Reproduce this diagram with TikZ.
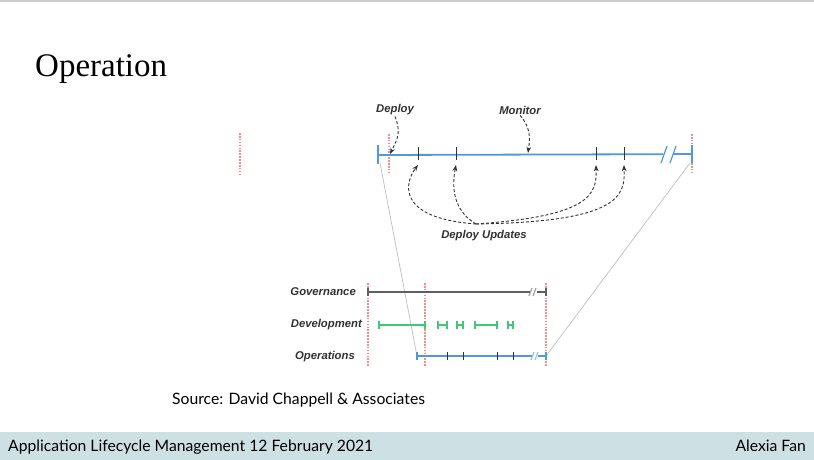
\documentclass[tikz,border=0pt]{standalone}
\usepackage{fontspec}
\setmainfont{Lato}
\newfontfamily\titlefont{Liberation Serif}
\newfontfamily\figfont{Liberation Sans}
\usetikzlibrary{arrows.meta,positioning,calc}
\definecolor{opblue}{RGB}{78,152,222}
\definecolor{opgreen}{RGB}{62,200,120}
\definecolor{opgray}{RGB}{95,95,95}
\definecolor{opred}{RGB}{248,140,140}
\definecolor{optext}{RGB}{50,50,50}
\definecolor{footbg}{RGB}{205,224,228}
\tikzset{
  lbl/.style={font=\figfont\bfseries\itshape\fontsize{11.3}{13}\selectfont, text=optext, inner sep=1pt},
  guide/.style={opred, dash pattern=on 1.6pt off 1.3pt, line width=1.4pt},
  bar/.style={line width=1.8pt, line cap=butt},
  brk/.style={line width=1.2pt},
  tick/.style={black!80, line width=0.8pt},
  callout/.style={-{Stealth[length=2.2mm]}, optext, densely dashed, line width=0.9pt},
  persp/.style={black!25, line width=0.7pt},
}
\begin{document}
\begin{tikzpicture}[x=1pt,y=-1pt]
  \useasboundingbox (0,0) rectangle (814,460);
  \fill[white] (0,0) rectangle (814,460);
  \draw[black!20, line width=1.5pt] (0,1) -- (814,1);
  \fill[footbg] (0,432) rectangle (814,460);

  % slide text
  \node[anchor=base west, font=\titlefont\fontsize{33}{36}\selectfont, inner sep=0pt] (title) at (35,77) {Operation};
  \node[anchor=base west, font=\fontsize{15.7}{18}\selectfont, inner sep=0pt] (src) at (172,404) {Source: David Chappell \& Associates};
  \node[anchor=base west, font=\fontsize{15.7}{18}\selectfont, inner sep=0pt] (foot) at (8,451) {Application Lifecycle Management 12 February 2021};
  \node[anchor=base east, font=\fontsize{15.7}{18}\selectfont, inner sep=0pt] (author) at (806,451) {Alexia Fan};

  % top timeline
  \draw[guide] (240,133) -- (240,174);
  \draw[guide] (389,134) -- (389,174);
  \draw[guide] (692,134) -- (692,174);
  \coordinate (tl) at (378,155);
  \coordinate (tr) at (692,154);
  \draw[opblue, bar] (tl) -- (663,154.2);
  \draw[opblue, bar] (673,154) -- (tr);
  \draw[opblue, brk] (661,163) -- (667,146);
  \draw[opblue, brk] (670,163) -- (676,146);
  \draw[opblue, line width=2pt] (378,145) -- (378,164);
  \draw[opblue, line width=2pt] (692,145) -- (692,163);
  \foreach \x/\n in {418/1,456/2,596/3,624/4}{
    \draw[tick] (\x,147) -- (\x,160);
    \coordinate (u\n) at (\x,165);
  }

  % callouts
  \node[lbl] (deploy) at (395,110) {Deploy};
  \node[lbl] (monitor) at (520,110) {Monitor};
  \node[lbl] (upd) at (484,236) {Deploy Updates};
  \coordinate (dp) at (390,154);
  \coordinate (mn) at (528,153);
  \draw[callout] (deploy.south) .. controls (401,132) and (398,138) .. (dp);
  \draw[callout] (monitor.south) .. controls (531,128) and (530,138) .. (mn);
  \coordinate (hub) at (476,224);
  \draw[callout] (hub) .. controls (395,218) and (405,182) .. (u1);
  \draw[callout] (hub) .. controls (452,210) and (452,185) .. (u2);
  \draw[callout] (hub) .. controls (590,216) and (597,195) .. (u3);
  \draw[callout] (hub) .. controls (622,222) and (625,195) .. (u4);

  % perspective lines
  \coordinate (ol) at (417,356);
  \coordinate (or) at (546,356);
  \draw[persp] (380,163) -- (ol);
  \draw[persp] (690,163) -- (or);

  % bottom lanes
  \foreach \x in {368,425,546}{\draw[guide] (\x,283) -- (\x,367);}
  \node[lbl, anchor=east] (gov) at (357,292) {Governance};
  \node[lbl, anchor=east] (dev) at (363,325) {Development};
  \node[lbl, anchor=east] (ops) at (356,357) {Operations};

  \draw[opgray, line width=1.2pt] (368,292) -- (530,292);
  \draw[opgray, line width=1.2pt] (537,292) -- (546,292);
  \draw[opgray!60, brk] (529,296) -- (532,288);
  \draw[opgray!60, brk] (533,296) -- (536,288);
  \draw[opgray, line width=1.2pt] (368,288) -- (368,296);
  \draw[opgray, line width=1.2pt] (546,288) -- (546,296);

  \foreach \a/\b in {379/425,438/447,457/463,475/497,508/513}{
    \draw[opgreen, line width=1.4pt] (\a,325) -- (\b,325);
    \draw[opgreen, line width=1.4pt] (\a,321) -- (\a,329);
    \draw[opgreen, line width=1.4pt] (\b,321) -- (\b,329);
  }

  \draw[opblue, line width=1.4pt] (ol) -- (532,356);
  \draw[opblue, line width=1.4pt] (538,356) -- (or);
  \draw[opblue!60, brk] (531,360) -- (534,352);
  \draw[opblue!60, brk] (535,360) -- (538,352);
  \draw[opblue, line width=1.4pt] (417,352) -- (417,360);
  \draw[opblue, line width=1.4pt] (546,352) -- (546,360);
  \foreach \x in {447,463,497,513}{\draw[tick] (\x,352) -- (\x,360);}
\end{tikzpicture}
\end{document}
